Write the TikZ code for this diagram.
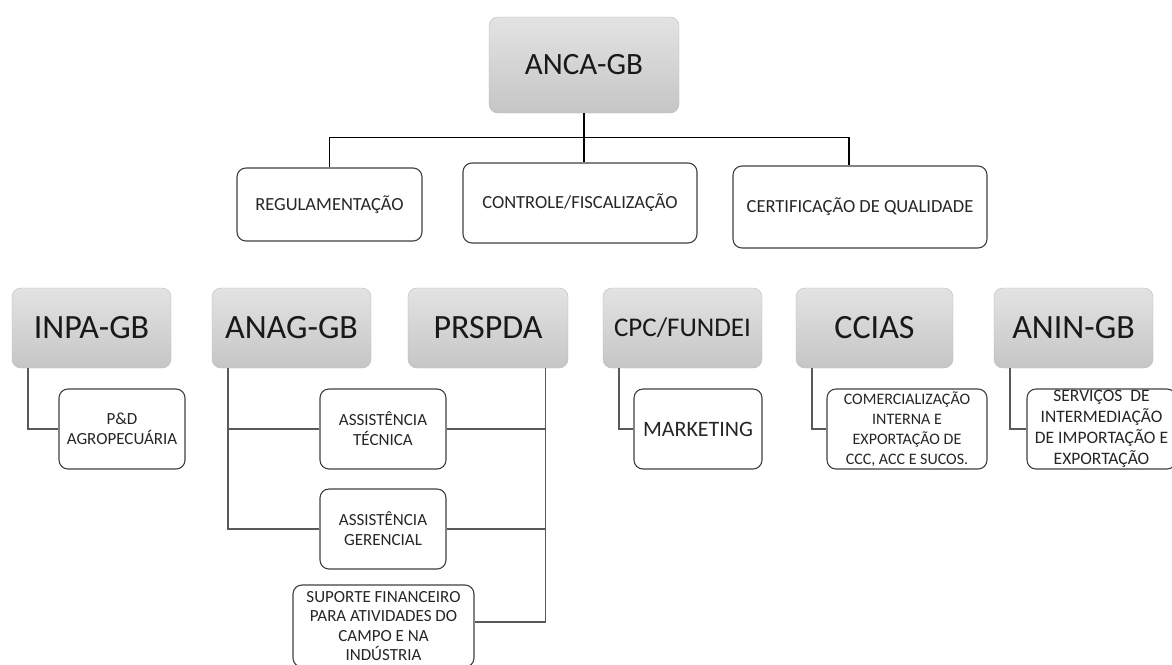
\documentclass[tikz,border=0pt]{standalone}
\usepackage{fontspec}
\setmainfont{Carlito}
\usetikzlibrary{calc}

\tikzset{
    boxsize/.style 2 args={minimum width=#1, minimum height=#2},
    headbox/.style={rounded corners=9pt, draw=gray!55, top color=gray!22, bottom color=gray!45,
        inner sep=0pt, text=black!90, font=\fontsize{34}{40}\selectfont},
    taskbox/.style={rounded corners=9pt, draw=black!75, line width=1.1pt, fill=white,
        align=center, inner sep=0pt, text=black!85, font=\fontsize{17}{20}\selectfont},
    toplink/.style={black, line width=1.1pt},
    link/.style={black!65, line width=1.4pt}
}

\begin{document}
\begin{tikzpicture}[x=1pt,y=-1pt]
    \useasboundingbox (0,0) rectangle (1172,664);
    % Top of the chart
    \node[headbox, boxsize={190}{96}, font=\fontsize{31}{36}\selectfont] (anca) at (584,65) {ANCA-GB};
    \node[taskbox, boxsize={185}{73}, font=\fontsize{18.5}{22}\selectfont] (regul) at (329.5,204.5) {REGULAMENTAÇÃO};
    \node[taskbox, boxsize={234}{80}, font=\fontsize{18.5}{22}\selectfont] (contr) at (580,203) {CONTROLE/FISCALIZAÇÃO};
    \node[taskbox, boxsize={254}{82}, font=\fontsize{18.5}{22}\selectfont] (cert) at (860,207) {CERTIFICAÇÃO DE QUALIDADE};
    \coordinate (bus) at ($(anca.south)+(0,24)$);
    \draw[toplink] (anca.south) -- (anca.south |- contr.north);
    \draw[toplink] (regul.north) |- (bus) -| ([xshift=-11pt]cert.north);
    % Second row of institutions
    \node[headbox, boxsize={159}{80}] (inpa) at (91.5,328) {INPA-GB};
    \node[headbox, boxsize={159}{80}] (anag) at (291.5,328) {ANAG-GB};
    \node[headbox, boxsize={160}{80}] (prspda) at (488,328) {PRSPDA};
    \node[headbox, boxsize={159}{80}, font=\fontsize{27}{32}\selectfont] (cpc) at (682.5,328) {CPC/FUNDEI};
    \node[headbox, boxsize={157}{80}] (ccias) at (874.5,328) {CCIAS};
    \node[headbox, boxsize={159}{80}] (anin) at (1073.5,328) {ANIN-GB};
    % Tasks
    \node[taskbox, boxsize={126}{80}] (pd) at (122,429) {P\&D\\AGROPECUÁRIA};
    \node[taskbox, boxsize={126}{80}] (tec) at (383,429) {ASSISTÊNCIA\\TÉCNICA};
    \node[taskbox, boxsize={126}{80}] (ger) at (383,529) {ASSISTÊNCIA\\GERENCIAL};
    \node[taskbox, boxsize={181}{82}, font=\fontsize{17}{19.5}\selectfont] (sup) at (383.5,626) {SUPORTE FINANCEIRO\\PARA ATIVIDADES DO\\CAMPO E NA\\INDÚSTRIA};
    \node[taskbox, boxsize={128}{80}, font=\fontsize{22}{26}\selectfont] (mkt) at (698,429) {MARKETING};
    \node[taskbox, boxsize={160}{80}, font=\fontsize{16}{20}\selectfont] (com) at (907,429) {COMERCIALIZAÇÃO\\INTERNA E\\EXPORTAÇÃO DE\\CCC, ACC E SUCOS.};
    \node[taskbox, boxsize={149}{80}, font=\fontsize{17.5}{21}\selectfont] (serv) at (1101.5,429) {SERVIÇOS~~DE\\INTERMEDIAÇÃO\\DE IMPORTAÇÃO E\\EXPORTAÇÃO};
    % Links to the tasks
    \draw[link] ([xshift=16pt]inpa.south west) |- (pd.west);
    \draw[link] ([xshift=16pt]anag.south west) coordinate (a1) |- (ger.west);
    \draw[link] (tec.west) -- (tec.west -| a1);
    \draw[link] ([xshift=-23pt]prspda.south east) coordinate (p1) |- ([yshift=4pt]sup.east);
    \draw[link] (tec.east) -- (tec.east -| p1);
    \draw[link] (ger.east) -- (ger.east -| p1);
    \draw[link] ([xshift=16pt]cpc.south west) |- (mkt.west);
    \draw[link] ([xshift=16pt]ccias.south west) |- (com.west);
    \draw[link] ([xshift=16pt]anin.south west) |- (serv.west);
\end{tikzpicture}
\end{document}
